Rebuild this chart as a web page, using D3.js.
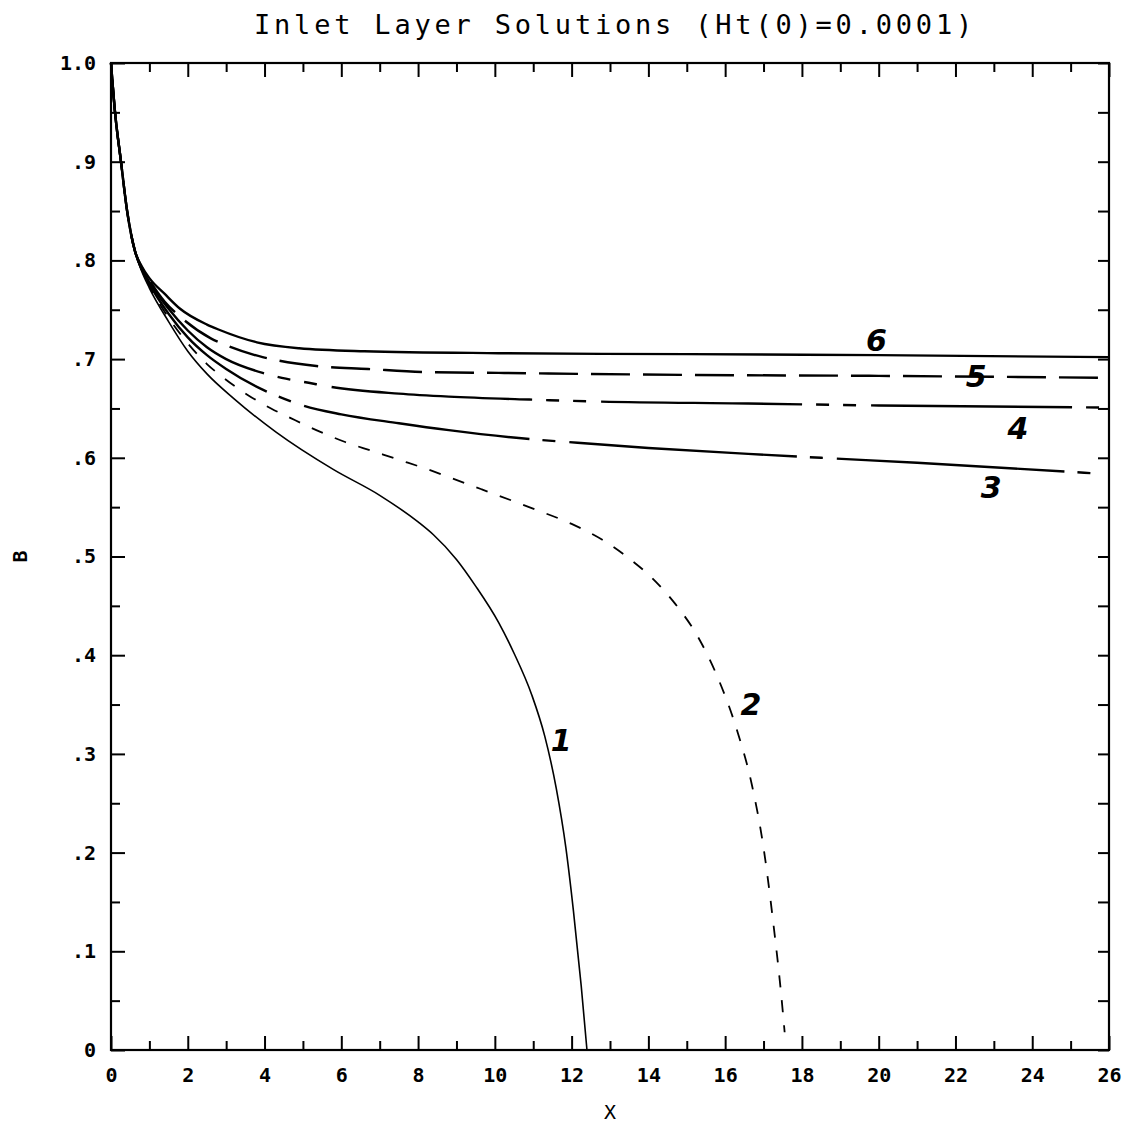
<!DOCTYPE html>
<html>
<head>
<meta charset="utf-8">
<script src="https://cdn.jsdelivr.net/npm/d3@7"></script>
<style>
  body { margin: 0; background: #fff; }
  text { font-family: "DejaVu Sans Mono", monospace; fill: #000; }
</style>
</head>
<body>
<div id="graph"></div>
<script>
const width = 1125;
const height = 1124;
const margin = { top: 63, right: 15, bottom: 74, left: 111 };

// curves: [x, B]
const curve1 = [[0, 1], [0.1, 0.952], [0.26, 0.9], [0.42, 0.85], [0.62, 0.81], [0.8, 0.789], [1.0, 0.772], [1.5, 0.738], [2.0, 0.708], [2.5, 0.685], [3.2, 0.66], [4.3, 0.626], [5.8, 0.588], [7.0, 0.562], [8.0, 0.535], [8.4, 0.522], [9.0, 0.497], [9.5, 0.47], [10.1, 0.433], [10.5, 0.402], [10.96, 0.36], [11.3, 0.318], [11.6, 0.265], [11.85, 0.205], [12.05, 0.14], [12.25, 0.065], [12.4, 0]];
const curve2 = [[0, 1], [0.1, 0.952], [0.26, 0.9], [0.42, 0.85], [0.62, 0.81], [0.8, 0.79], [1.0, 0.774], [1.5, 0.742], [2.0, 0.716], [2.5, 0.695], [2.9, 0.682], [3.55, 0.664], [4.17, 0.65], [4.8, 0.638], [5.47, 0.626], [6.1, 0.616], [6.8, 0.607], [7.5, 0.598], [8.2, 0.589], [8.9, 0.579], [9.66, 0.568], [10.96, 0.549], [12.0, 0.533], [12.8, 0.517], [13.5, 0.498], [14.1, 0.478], [14.7, 0.452], [15.3, 0.418], [15.8, 0.378], [16.3, 0.325], [16.7, 0.268], [17.0, 0.205], [17.25, 0.13], [17.45, 0.06], [17.55, 0.018]];
const curve3 = [[0, 1], [0.1, 0.952], [0.26, 0.9], [0.42, 0.85], [0.62, 0.81], [0.8, 0.791], [1.0, 0.776], [1.5, 0.746], [2.0, 0.722], [2.5, 0.704], [3.0, 0.69], [3.95, 0.669], [4.5, 0.66], [5.0, 0.653], [6.0, 0.644], [7.5, 0.635], [8.8, 0.628], [10.9, 0.619], [11.9, 0.616], [14, 0.61], [16.6, 0.604], [18.5, 0.6], [21, 0.595], [24.9, 0.586], [25.7, 0.584]];
const curve4 = [[0, 1], [0.1, 0.952], [0.26, 0.9], [0.42, 0.85], [0.62, 0.81], [0.8, 0.792], [1.0, 0.778], [1.5, 0.751], [2.0, 0.729], [2.5, 0.712], [3.0, 0.7], [3.95, 0.686], [4.45, 0.681], [5.15, 0.676], [5.7, 0.672], [7.5, 0.665], [8.8, 0.662], [10.9, 0.659], [12.7, 0.657], [16.6, 0.655], [20, 0.653], [25.8, 0.651]];
const curve5 = [[0, 1], [0.1, 0.952], [0.26, 0.9], [0.42, 0.85], [0.62, 0.81], [0.8, 0.793], [1.0, 0.78], [1.4, 0.758], [1.8, 0.743], [2.6, 0.721], [3.0, 0.714], [3.95, 0.702], [4.3, 0.699], [5.35, 0.693], [6.7, 0.69], [8.1, 0.687], [10.1, 0.686], [15, 0.684], [20, 0.683], [26, 0.681]];
const curve6 = [[0, 1], [0.1, 0.952], [0.26, 0.9], [0.42, 0.85], [0.62, 0.81], [0.8, 0.794], [1.0, 0.782], [1.4, 0.766], [1.8, 0.751], [2.5, 0.735], [2.8, 0.73], [3.8, 0.717], [4.9, 0.711], [6.6, 0.708], [10.1, 0.706], [15, 0.705], [20, 0.704], [26, 0.702]];

const curveNames = ["1", "2", "3", "4", "5", "6"];
const labelX = [11.73, 16.67, 22.93, 23.63, 22.54, 19.94];
const labelB = [0.314, 0.35, 0.57, 0.63, 0.682, 0.719];

const xMajor = d3.range(0, 27, 2);
const xMinor = d3.range(1, 26, 2);
const yMajor = d3.range(0, 11).map(d => d / 10);
const yMinor = d3.range(0, 10).map(d => d / 10 + 0.05);

const x = d3.scaleLinear().domain([0, 26]).range([margin.left, width - margin.right - 1]);
const y = d3.scaleLinear().domain([0, 1]).range([height - margin.bottom, margin.top]);

const svg = d3.select("#graph").append("svg")
  .attr("width", width)
  .attr("height", height);

const yFormat = d => d === 0 ? "0" : d === 1 ? "1.0" : "." + Math.round(d * 10);

// bottom axis with labels
svg.append("g")
  .attr("transform", `translate(0,${y(0)})`)
  .call(d3.axisBottom(x).tickValues(xMajor).tickSizeInner(-14).tickSizeOuter(0).tickPadding(18).tickFormat(d3.format("d")));
svg.append("g")
  .attr("transform", `translate(0,${y(0)})`)
  .call(d3.axisBottom(x).tickValues(xMinor).tickSizeInner(-9).tickSizeOuter(0).tickFormat(""));

// top axis, ticks only
svg.append("g")
  .attr("transform", `translate(0,${y(1)})`)
  .call(d3.axisTop(x).tickValues(xMajor).tickSizeInner(-14).tickSizeOuter(0).tickFormat(""));
svg.append("g")
  .attr("transform", `translate(0,${y(1)})`)
  .call(d3.axisTop(x).tickValues(xMinor).tickSizeInner(-9).tickSizeOuter(0).tickFormat(""));

// left axis with labels
svg.append("g")
  .attr("transform", `translate(${x(0)},0)`)
  .call(d3.axisLeft(y).tickValues(yMajor).tickSizeInner(-14).tickSizeOuter(0).tickPadding(15).tickFormat(yFormat));
svg.append("g")
  .attr("transform", `translate(${x(0)},0)`)
  .call(d3.axisLeft(y).tickValues(yMinor).tickSizeInner(-9).tickSizeOuter(0).tickFormat(""));

// right axis, ticks only
svg.append("g")
  .attr("transform", `translate(${x(26)},0)`)
  .call(d3.axisRight(y).tickValues(yMajor).tickSizeInner(-11).tickSizeOuter(0).tickFormat(""));
svg.append("g")
  .attr("transform", `translate(${x(26)},0)`)
  .call(d3.axisRight(y).tickValues(yMinor).tickSizeInner(-11).tickSizeOuter(0).tickFormat(""));

svg.selectAll(".domain").remove();
svg.selectAll(".tick line").attr("stroke", "#000").attr("stroke-width", 2);
svg.selectAll(".tick text")
  .style("font-family", "'DejaVu Sans Mono', monospace")
  .style("font-size", "20px")
  .style("font-weight", "bold")
  .attr("fill", "#000");

svg.append("rect")
  .attr("x", x(0))
  .attr("y", y(1))
  .attr("width", x(26) - x(0))
  .attr("height", y(0) - y(1))
  .attr("fill", "none")
  .attr("stroke", "#000")
  .attr("stroke-width", 2.2);

const line = d3.line()
  .x(d => x(d[0]))
  .y(d => y(d[1]))
  .curve(d3.curveMonotoneX);

// line up a dash pattern so a dash ends at a given x
const alignDash = (path, pattern, anchorX) => {
  const node = path.node();
  const target = x(anchorX);
  let lo = 0;
  let hi = node.getTotalLength();
  for (let i = 0; i < 30; i++) {
    const mid = (lo + hi) / 2;
    if (node.getPointAtLength(mid).x < target) lo = mid;
    else hi = mid;
  }
  const period = d3.sum(pattern);
  const offset = (((pattern[0] - lo) % period) + period) % period;
  path.attr("stroke-dasharray", pattern.join(" ")).attr("stroke-dashoffset", offset);
};

const styles = [
  { data: curve1, width: 1.6 },
  { data: curve2, width: 1.8, dash: [12, 13], anchor: 3.22 },
  { data: curve3, width: 2.4, dash: [228, 13, 13, 14], anchor: 10.9 },
  { data: curve4, width: 2.4, dash: [201, 14, 13, 14, 13, 15], anchor: 10.97 },
  { data: curve5, width: 2.4, dash: [39, 13], anchor: 8.1 },
  { data: curve6, width: 2.4 }
];

styles.forEach(s => {
  const p = svg.append("path")
    .datum(s.data)
    .attr("fill", "none")
    .attr("stroke", "#000")
    .attr("stroke-width", s.width)
    .attr("stroke-linejoin", "round")
    .attr("d", line);
  if (s.dash) alignDash(p, s.dash, s.anchor);
});

// hand-written curve numbers
curveNames.forEach((name, i) => {
  svg.append("text")
    .attr("x", x(labelX[i]))
    .attr("y", y(labelB[i]))
    .attr("text-anchor", "middle")
    .attr("dominant-baseline", "central")
    .style("font-family", "'DejaVu Sans', sans-serif")
    .style("font-size", "30px")
    .style("font-weight", "bold")
    .style("font-style", "italic")
    .text(name);
});

svg.append("text")
  .attr("x", 615)
  .attr("y", 34)
  .attr("text-anchor", "middle")
  .style("font-size", "27px")
  .style("letter-spacing", "3.8px")
  .text("Inlet Layer Solutions (Ht(0)=0.0001)");

svg.append("text")
  .attr("x", (x(0) + x(26)) / 2)
  .attr("y", 1119)
  .attr("text-anchor", "middle")
  .style("font-size", "20px")
  .text("X");

svg.append("text")
  .attr("transform", `translate(27,${y(0.5)}) rotate(-90)`)
  .attr("text-anchor", "middle")
  .style("font-size", "20px")
  .style("font-weight", "bold")
  .text("B");
</script>
</body>
</html>
